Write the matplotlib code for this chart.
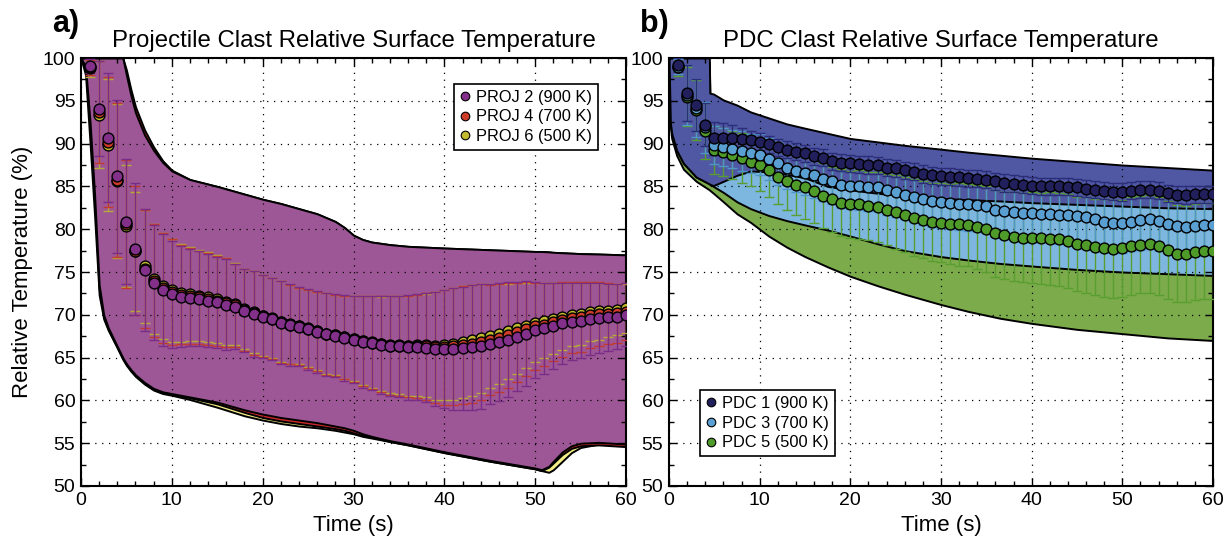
import matplotlib
matplotlib.use("Agg")
import matplotlib.pyplot as plt
from matplotlib.lines import Line2D
from matplotlib.ticker import MultipleLocator

plt.rcParams['font.family'] = ['Liberation Sans', 'DejaVu Sans']

# ---------------- data ----------------
time_s = list(range(1, 61))

# Panel a: projectile clasts (mean and standard deviation, %)
proj2_mean = [99.05, 94.1, 90.7, 86.2, 80.9, 77.7, 75.2, 73.75, 72.9, 72.4,
              72.1, 72.0, 71.85, 71.65, 71.45, 71.2, 70.95, 70.5, 70.1, 69.8,
              69.5, 69.1, 68.8, 68.6, 68.3, 68.0, 67.7, 67.55, 67.3, 67.1,
              66.85, 66.7, 66.5, 66.35, 66.3, 66.2, 66.2, 66.15, 66.0, 66.0,
              66.0, 66.1, 66.2, 66.35, 66.55, 66.8, 67.1, 67.45, 67.8, 68.2,
              68.4, 68.7, 69.0, 69.2, 69.3, 69.5, 69.6, 69.7, 69.8, 70.0]
proj2_std = [0.8, 5.6, 7.55, 8.95, 7.3, 7.7, 7.15, 6.75, 6.5, 6.25,
             5.9, 5.7, 5.55, 5.45, 5.35, 5.3, 4.95, 4.9, 5.0, 4.9,
             4.8, 4.85, 4.75, 4.6, 4.7, 4.75, 4.9, 4.85, 5.0, 5.1,
             5.35, 5.5, 5.7, 5.85, 5.9, 6.1, 6.2, 6.35, 6.7, 6.9,
             7.1, 7.2, 7.3, 7.3, 7.0, 6.9, 6.7, 6.4, 6.1, 5.6,
             5.3, 5.0, 4.7, 4.5, 4.4, 4.2, 4.1, 3.9, 3.8, 3.7]
proj4_mean = [98.9, 93.7, 90.2, 85.8, 80.6, 77.5, 75.4, 74.0, 73.15, 72.65,
              72.35, 72.2, 72.05, 71.85, 71.65, 71.4, 71.1, 70.6, 70.2, 69.85,
              69.55, 69.15, 68.85, 68.65, 68.35, 68.05, 67.75, 67.6, 67.35, 67.15,
              66.9, 66.75, 66.55, 66.4, 66.35, 66.3, 66.3, 66.3, 66.2, 66.2,
              66.3, 66.45, 66.6, 66.8, 67.05, 67.3, 67.6, 67.95, 68.3, 68.65,
              68.85, 69.15, 69.45, 69.65, 69.75, 69.95, 70.05, 70.15, 70.2, 70.35]
proj4_std = [0.9, 6.0, 7.6, 9.0, 7.5, 7.5, 6.9, 6.6, 6.4, 6.15,
             5.8, 5.6, 5.45, 5.35, 5.25, 5.2, 4.85, 4.8, 4.9, 4.8,
             4.7, 4.75, 4.65, 4.5, 4.6, 4.65, 4.8, 4.75, 4.9, 5.0,
             5.25, 5.4, 5.6, 5.75, 5.8, 5.95, 6.05, 6.2, 6.5, 6.7,
             6.85, 6.9, 6.9, 6.8, 6.45, 6.3, 6.1, 5.8, 5.5, 5.05,
             4.85, 4.6, 4.35, 4.15, 4.05, 3.85, 3.75, 3.55, 3.45, 3.35]
proj6_mean = [98.8, 93.4, 89.8, 85.6, 80.4, 77.4, 75.65, 74.2, 73.35, 72.85,
              72.55, 72.4, 72.25, 72.05, 71.85, 71.55, 71.25, 70.7, 70.3, 69.9,
              69.6, 69.2, 68.9, 68.7, 68.4, 68.1, 67.8, 67.65, 67.4, 67.2,
              66.95, 66.8, 66.6, 66.5, 66.45, 66.4, 66.45, 66.45, 66.4, 66.45,
              66.6, 66.8, 67.0, 67.25, 67.5, 67.75, 68.05, 68.4, 68.75, 69.1,
              69.3, 69.55, 69.8, 70.0, 70.1, 70.3, 70.4, 70.5, 70.6, 70.75]
proj6_std = [1.0, 6.2, 7.7, 9.0, 7.1, 6.9, 6.6, 6.4, 6.2, 6.0,
             5.7, 5.5, 5.35, 5.25, 5.15, 5.1, 4.75, 4.7, 4.8, 4.75,
             4.65, 4.7, 4.6, 4.45, 4.55, 4.6, 4.75, 4.7, 4.85, 4.95,
             5.2, 5.35, 5.5, 5.65, 5.7, 5.85, 5.9, 6.0, 6.3, 6.45,
             6.55, 6.55, 6.5, 6.4, 6.05, 5.85, 5.6, 5.3, 5.0, 4.6,
             4.4, 4.15, 3.9, 3.7, 3.6, 3.4, 3.3, 3.1, 3.0, 2.9]

# Panel a: min/max envelopes
env_time_a = [0, 0.5, 1, 1.5, 2, 2.5, 3, 4, 4.6, 5, 5.5, 6, 7, 8, 9, 10, 12, 15, 18, 20,
              22, 24, 26, 28, 29, 30, 31, 32, 34, 36, 40, 45, 50, 50.7, 51.5, 52, 53, 54,
              55, 57, 60]
proj2_env_hi = [100, 100, 100, 100, 100, 100, 100, 100, 100, 98.0, 95.6, 93.6, 91.0, 89.2,
                87.8, 86.8, 85.8, 85.0, 84.1, 83.5, 83.0, 82.4, 81.8, 80.9, 80.2, 79.3,
                78.8, 78.5, 78.2, 78.0, 77.8, 77.6, 77.4, 77.4, 77.35, 77.3, 77.25, 77.2,
                77.15, 77.1, 77.0]
proj2_env_lo = [100, 99.0, 92.5, 84.0, 73.5, 70.0, 68.5, 66.3, 65.0, 64.3, 63.6, 63.0, 62.1,
                61.4, 61.0, 60.8, 60.4, 59.8, 58.9, 58.4, 58.0, 57.7, 57.4, 57.0, 56.8, 56.5,
                56.1, 55.8, 55.3, 54.9, 54.0, 53.0, 52.1, 51.9, 52.3, 52.9, 54.0, 54.7, 55.0,
                55.1, 54.9]
proj4_env_hi = [100, 100, 100, 100, 100, 100, 100, 100, 100, 98.6, 96.3, 94.3, 91.6, 89.6,
                88.0, 86.9, 85.8, 85.0, 84.1, 83.5, 83.0, 82.4, 81.8, 80.9, 80.2, 79.3,
                78.8, 78.5, 78.2, 78.0, 77.8, 77.6, 77.4, 77.4, 77.35, 77.3, 77.25, 77.2,
                77.15, 77.1, 77.0]
proj4_env_lo = [100, 98.8, 92.0, 83.5, 73.0, 69.8, 68.3, 66.2, 64.9, 64.2, 63.5, 62.9, 62.0,
                61.3, 60.9, 60.7, 60.3, 59.6, 58.6, 58.0, 57.6, 57.3, 57.0, 56.7, 56.5, 56.2,
                55.9, 55.7, 55.2, 54.8, 53.9, 52.9, 52.0, 51.8, 52.2, 52.7, 53.7, 54.4, 54.7,
                54.8, 54.6]
proj6_env_hi = [100, 100, 100, 100, 100, 100, 100, 100, 100, 97.9, 95.5, 93.5, 90.9, 89.1,
                87.7, 86.7, 85.7, 84.9, 84.0, 83.4, 82.9, 82.3, 81.7, 80.8, 80.1, 79.2,
                78.7, 78.4, 78.1, 77.9, 77.7, 77.5, 77.3, 77.3, 77.25, 77.2, 77.15, 77.1,
                77.05, 77.0, 76.9]
proj6_env_lo = [100, 98.0, 90.0, 81.5, 72.3, 69.5, 68.2, 66.1, 64.8, 64.1, 63.4, 62.8, 61.9,
                61.2, 60.8, 60.6, 60.1, 59.2, 58.2, 57.7, 57.3, 57.0, 56.8, 56.5, 56.3, 56.1,
                55.8, 55.6, 55.2, 54.8, 53.9, 52.9, 52.0, 51.8, 51.6, 51.9, 52.9, 53.9, 54.5,
                54.9, 54.8]

# Panel b: PDC clasts
pdc1_mean = [99.2, 95.9, 94.5, 92.2, 90.6, 90.6, 90.6, 90.55, 90.4, 90.2,
             89.9, 89.55, 89.3, 89.05, 88.85, 88.5, 88.35, 87.95, 87.75, 87.7,
             87.6, 87.5, 87.45, 87.2, 87.1, 86.9, 86.7, 86.45, 86.3, 86.2,
             86.15, 86.05, 85.95, 85.9, 85.8, 85.6, 85.4, 85.3, 85.2, 85.1,
             85.0, 85.0, 85.0, 84.95, 84.9, 84.75, 84.6, 84.5, 84.4, 84.35,
             84.5, 84.6, 84.6, 84.5, 84.2, 84.05, 84.0, 84.1, 84.1, 84.1]
pdc1_std = [0.8, 3.3, 3.0, 2.5, 1.9, 1.8, 1.6, 1.3, 1.1, 1.0,
            1.0, 1.0, 1.0, 1.0, 1.0, 1.0, 1.0, 1.0, 1.0, 1.0,
            1.0, 1.0, 1.0, 1.0, 1.0, 1.0, 1.0, 1.0, 1.0, 1.0,
            1.0, 1.0, 1.0, 1.0, 1.0, 1.0, 1.0, 1.0, 1.0, 1.0,
            1.0, 1.0, 1.0, 1.0, 1.0, 1.0, 1.0, 1.0, 1.0, 1.0,
            1.0, 1.0, 1.0, 1.0, 1.0, 1.0, 1.0, 1.0, 1.0, 1.0]
pdc3_mean = [99.0, 95.7, 94.2, 91.9, 89.8, 89.6, 89.35, 89.15, 88.85, 88.7,
             88.2, 87.7, 87.2, 86.8, 86.6, 86.3, 85.9, 85.6, 85.2, 85.1,
             85.1, 84.95, 84.9, 84.55, 84.35, 84.05, 83.8, 83.5, 83.3, 83.15,
             83.1, 83.0, 82.9, 82.85, 82.7, 82.3, 82.1, 82.0, 81.85, 81.85,
             81.75, 81.75, 81.65, 81.65, 81.5, 81.45, 81.2, 80.9, 80.75, 80.7,
             80.9, 81.1, 81.2, 81.0, 80.6, 80.4, 80.3, 80.4, 80.5, 80.5]
pdc3_std = [0.9, 3.5, 3.4, 3.0, 2.2, 2.2, 2.2, 2.3, 2.3, 2.4,
            2.4, 2.5, 2.5, 2.5, 2.6, 2.6, 2.6, 2.7, 2.7, 2.7,
            2.8, 2.8, 2.8, 2.9, 2.9, 2.9, 3.0, 3.0, 3.0, 3.0,
            3.1, 3.1, 3.1, 3.1, 3.2, 3.2, 3.2, 3.2, 3.3, 3.3,
            3.3, 3.3, 3.4, 3.4, 3.4, 3.4, 3.4, 3.5, 3.5, 3.5,
            3.5, 3.5, 3.5, 3.5, 3.5, 3.5, 3.5, 3.5, 3.5, 3.5]
pdc5_mean = [98.9, 95.5, 93.9, 91.5, 89.3, 89.05, 88.65, 88.3, 87.9, 87.5,
             86.9, 86.1, 85.6, 85.2, 84.9, 84.45, 83.9, 83.5, 83.1, 82.9,
             82.9, 82.7, 82.6, 82.3, 82.0, 81.7, 81.35, 81.1, 80.85, 80.75,
             80.6, 80.55, 80.5, 80.3, 80.0, 79.5, 79.3, 79.1, 79.0, 79.0,
             78.95, 78.9, 78.8, 78.65, 78.3, 78.2, 77.95, 77.8, 77.7, 77.75,
             78.05, 78.2, 78.25, 78.05, 77.55, 77.15, 77.1, 77.35, 77.45, 77.45]
pdc5_std = [1.0, 3.4, 3.5, 3.3, 2.8, 2.8, 2.8, 2.9, 2.9, 3.0,
            3.1, 3.2, 3.3, 3.5, 3.7, 3.7, 3.8, 3.8, 3.9, 3.9,
            4.0, 4.0, 4.1, 4.2, 4.3, 4.4, 4.5, 4.5, 4.6, 4.6,
            4.7, 4.8, 4.8, 4.9, 5.0, 5.1, 5.1, 5.2, 5.2, 5.3,
            5.3, 5.4, 5.4, 5.5, 5.5, 5.6, 5.6, 5.7, 5.7, 5.7,
            5.7, 5.7, 5.7, 5.7, 5.7, 5.7, 5.6, 5.6, 5.6, 5.6]

env_time_b = [0, 0.15, 0.3, 0.85, 1.6, 3, 4.45, 4.5, 4.9, 6, 7.5, 9, 11, 13, 15, 17.5,
              20, 23, 26, 30, 33, 36.5, 40, 45, 50, 55, 60]
pdc1_env_hi = [100, 100, 100, 100, 100, 100, 100, 95.9, 95.8, 95.1, 94.5, 93.7, 93.0, 92.3,
               91.8, 91.2, 90.6, 90.2, 89.8, 89.35, 89.0, 88.65, 88.3, 87.9, 87.5, 87.2, 86.9]
pdc1_env_lo = [100, 92.5, 91.2, 89.2, 87.7, 86.1, 85.3, 85.25, 85.1, 85.6, 86.3, 86.8, 86.7,
               86.4, 86.0, 85.0, 84.6, 84.2, 83.9, 83.6, 83.45, 83.3, 83.1, 82.9, 82.7, 82.5,
               82.4]
pdc3_env_hi = [100, 99.5, 99.5, 99.5, 99.5, 99.5, 99.5, 95.5, 95.4, 94.7, 94.1, 93.3, 92.6,
               91.9, 91.4, 90.8, 90.2, 89.8, 89.4, 88.95, 88.6, 88.25, 87.9, 87.5, 87.1, 86.8,
               86.5]
pdc3_env_lo = [100, 92.5, 91.2, 89.2, 87.7, 86.1, 85.3, 85.25, 85.0, 84.3, 83.2, 82.4, 81.6,
               81.0, 80.5, 79.9, 79.2, 78.3, 77.5, 76.8, 76.4, 76.0, 75.7, 75.3, 75.0, 74.8,
               74.6]
pdc5_env_hi = [100, 99.0, 99.0, 99.0, 99.0, 99.0, 99.0, 95.0, 94.9, 94.2, 93.6, 92.8, 92.1,
               91.4, 90.9, 90.3, 89.7, 89.3, 88.9, 88.45, 88.1, 87.75, 87.4, 87.0, 86.6, 86.3,
               86.0]
pdc5_env_lo = [100, 92.0, 90.6, 88.6, 87.0, 85.6, 84.6, 84.55, 84.2, 83.2, 81.8, 80.8, 79.2,
               77.9, 76.8, 75.6, 74.5, 73.4, 72.4, 71.2, 70.4, 69.6, 69.0, 68.3, 67.8, 67.3,
               67.0]

labels_a = ["PROJ 2 (900 K)", "PROJ 4 (700 K)", "PROJ 6 (500 K)"]
labels_b = ["PDC 1 (900 K)", "PDC 3 (700 K)", "PDC 5 (500 K)"]
x_ticks = [0, 10, 20, 30, 40, 50, 60]
y_ticks = [50, 55, 60, 65, 70, 75, 80, 85, 90, 95, 100]

# ---------------- figure ----------------
fig = plt.figure(figsize=(12.3, 5.45), dpi=100)
axA = fig.add_axes([0.06585, 0.10826, 0.4431, 0.7853])
axB = fig.add_axes([0.5439, 0.10826, 0.4423, 0.7853])


def style_axes(ax):
    ax.set_xlim(0, 60)
    ax.set_ylim(50, 100)
    ax.set_xticks(x_ticks)
    ax.set_yticks(y_ticks)
    ax.xaxis.set_minor_locator(MultipleLocator(2))
    ax.yaxis.set_minor_locator(MultipleLocator(2.5))
    ax.tick_params(which='both', direction='in', top=True, right=True, width=1.0,
                   labelsize=14, pad=4)
    ax.tick_params(which='major', length=5.5)
    ax.tick_params(which='minor', length=3.5)
    for sp in ax.spines.values():
        sp.set_linewidth(1.5)
    ax.set_axisbelow(False)
    ax.grid(True, which='major', color='black', linestyle=(0, (1, 4.5)), linewidth=0.9)
    ax.set_xlabel("Time (s)", fontsize=16)
    ax.xaxis.set_label_coords(0.5, -0.068)


def draw_panel(ax, series):
    # envelopes (first series is drawn at the bottom)
    for s in series:
        ax.fill_between(s['env_t'], s['env_lo'], s['env_hi'], facecolor=s['fill'],
                        edgecolor='black', linewidth=1.4, zorder=1)
    for s in series:
        ax.errorbar(time_s, s['mean'], yerr=s['std'], fmt='none', ecolor=s['ecolor'],
                    elinewidth=1.0, capsize=3.5, capthick=1.0, zorder=3)
    for s in series:
        ax.plot(time_s, s['mean'], 'o', ms=7.8, mfc=s['mcolor'], mec='black', mew=1.0,
                zorder=4)


series_a = [
    dict(mean=proj6_mean, std=proj6_std, env_t=env_time_a, env_hi=proj6_env_hi,
         env_lo=proj6_env_lo, fill='#f3ed86', mcolor='#c2bb30', ecolor='#b5a93a'),
    dict(mean=proj4_mean, std=proj4_std, env_t=env_time_a, env_hi=proj4_env_hi,
         env_lo=proj4_env_lo, fill='#c8282a', mcolor='#cf3c2a', ecolor='#c23a2c'),
    dict(mean=proj2_mean, std=proj2_std, env_t=env_time_a, env_hi=proj2_env_hi,
         env_lo=proj2_env_lo, fill='#9e5796', mcolor='#82308a', ecolor='#7a2d88'),
]
series_b = [
    dict(mean=pdc5_mean, std=pdc5_std, env_t=env_time_b, env_hi=pdc5_env_hi,
         env_lo=pdc5_env_lo, fill='#7bab4a', mcolor='#4f9b2a', ecolor='#5a9e32'),
    dict(mean=pdc3_mean, std=pdc3_std, env_t=env_time_b, env_hi=pdc3_env_hi,
         env_lo=pdc3_env_lo, fill='#7db7e0', mcolor='#5a9fd2', ecolor='#4f95c8'),
    dict(mean=pdc1_mean, std=pdc1_std, env_t=env_time_b, env_hi=pdc1_env_hi,
         env_lo=pdc1_env_lo, fill='#5058a3', mcolor='#22205c', ecolor='#2b2d78'),
]

draw_panel(axA, series_a)
draw_panel(axB, series_b)
style_axes(axA)
style_axes(axB)

axA.set_ylabel("Relative Temperature (%)", fontsize=16)
axA.yaxis.set_label_coords(-0.088, 0.5)

axA.set_title("Projectile Clast Relative Surface Temperature", fontsize=17.3, pad=8)
axB.set_title("PDC Clast Relative Surface Temperature", fontsize=17.3, pad=8)

fig.text(0.042, 0.941, "a)", fontsize=22, fontweight='bold', va='baseline')
fig.text(0.520, 0.941, "b)", fontsize=22, fontweight='bold', va='baseline')


def legend_handles(series):
    return [Line2D([], [], ls='none', marker='o', ms=6.2, mfc=s['mcolor'], mec='black',
                   mew=0.8) for s in series]


legA = axA.legend(legend_handles(series_a[::-1]), labels_a, loc='upper left',
                  bbox_to_anchor=(0.684, 0.939), borderaxespad=0, fontsize=11.8,
                  handlelength=0.7, handletextpad=0.3, borderpad=0.35, labelspacing=0.28,
                  fancybox=False, framealpha=1, edgecolor='black')
legA.get_frame().set_linewidth(1.2)
legA.set_zorder(10)

legB = axB.legend(legend_handles(series_b[::-1]), labels_b, loc='lower left',
                  bbox_to_anchor=(0.057, 0.07), borderaxespad=0, fontsize=11.8,
                  handlelength=0.7, handletextpad=0.3, borderpad=0.35, labelspacing=0.28,
                  fancybox=False, framealpha=1, edgecolor='black')
legB.get_frame().set_linewidth(1.2)
legB.set_zorder(10)

fig.savefig("out.png", dpi=100)
